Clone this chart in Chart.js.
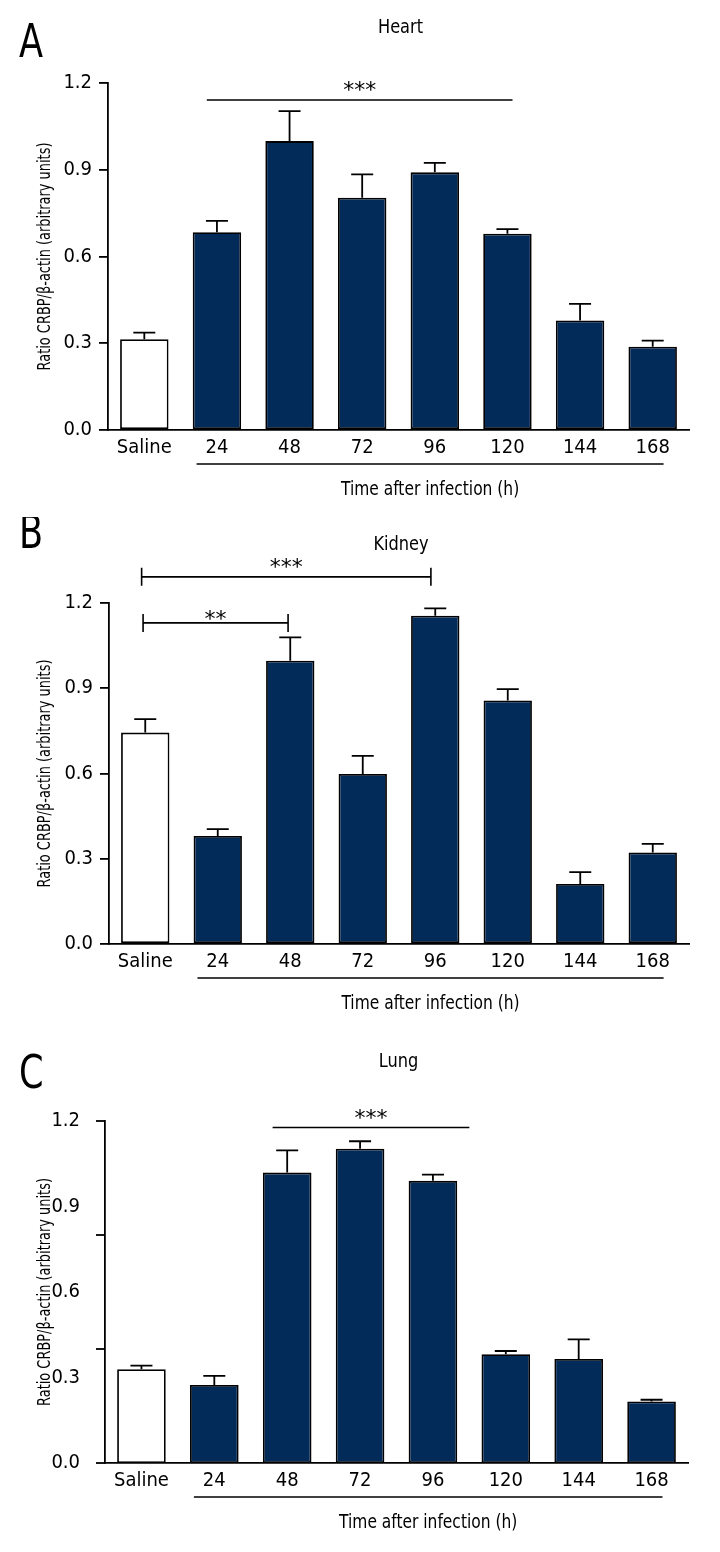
<!DOCTYPE html>
<html>
<head>
<meta charset="utf-8">
<script src="https://cdn.jsdelivr.net/npm/chart.js@4.4.1/dist/chart.umd.min.js"></script>
<style>
  html, body { margin:0; padding:0; background:#fff; }
  body { width:720px; height:1552px; position:relative; overflow:hidden; }
  .panel { position:absolute; left:0; width:720px; }
</style>
</head>
<body>
<div class="panel" style="top:0;height:517px"><canvas id="heartChart"></canvas></div>
<div class="panel" style="top:517px;height:518px"><canvas id="kidneyChart"></canvas></div>
<div class="panel" style="top:1035px;height:517px"><canvas id="lungChart"></canvas></div>
<script>
/* ── Data ── */
const categories = ['Saline', '24', '48', '72', '96', '120', '144', '168'];
const yTicks     = [0, 0.3, 0.6, 0.9, 1.2];

const heartMean  = [0.314, 0.684, 0.999, 0.803, 0.891, 0.679, 0.379, 0.288];
const heartSem   = [0.023, 0.039, 0.104, 0.081, 0.033, 0.016, 0.057, 0.021];

const kidneyMean = [0.744, 0.380, 0.997, 0.598, 1.155, 0.857, 0.211, 0.322];
const kidneySem  = [0.047, 0.024, 0.082, 0.064, 0.026, 0.040, 0.042, 0.030];

const lungMean   = [0.329, 0.274, 1.019, 1.103, 0.990, 0.382, 0.365, 0.216];
const lungSem    = [0.013, 0.032, 0.078, 0.026, 0.022, 0.011, 0.069, 0.006];
const lungTickMarks = [0, 0.4, 0.8, 1.2];   // original figure has its marks off the labels

// significance bars: from/to in category index, y in axis units
const heartSig  = [{ from: 0.86, to: 5.07, y: 1.141, text: '***', caps: false }];
const kidneySig = [
  { from: -0.05, to: 3.94, y: 1.292, text: '***', caps: true },
  { from: -0.03, to: 1.97, y: 1.130, text: '**',  caps: true },
];
const lungSig   = [{ from: 1.80, to: 4.50, y: 1.177, text: '***', caps: false }];

const yTitle = 'Ratio CRBP/β-actin (arbitrary units)';
const xTitle = 'Time after infection (h)';

/* ── Style ── */
const FONT = "'Liberation Sans Narrow', 'DejaVu Sans Condensed', 'Arial Narrow', sans-serif";
const NAVY = '#032b5a';
const INK  = '#000';

/* ── Plugins ── */
const errorBars = sem => ({
  id: 'errorBars',
  afterDatasetsDraw(chart) {
    const { ctx, scales: { y } } = chart;
    const means = chart.data.datasets[0].data;
    ctx.save();
    ctx.strokeStyle = INK; ctx.lineWidth = 1.8;
    chart.getDatasetMeta(0).data.forEach((bar, i) => {
      const top = y.getPixelForValue(means[i] + sem[i]);
      ctx.beginPath();
      ctx.moveTo(bar.x, bar.y); ctx.lineTo(bar.x, top);
      ctx.moveTo(bar.x - 11, top); ctx.lineTo(bar.x + 11, top);
      ctx.stroke();
    });
    ctx.restore();
  },
});

// text squeezed sideways a bit, the original face is a condensed one
function narrowText(ctx, text, x, y, sx) {
  ctx.save();
  ctx.translate(x, y);
  ctx.scale(sx, 1);
  ctx.fillText(text, 0, 0);
  ctx.restore();
}

const decor = p => ({
  id: 'decor',
  afterDraw(chart) {
    const { ctx, chartArea: a, scales: { x, y } } = chart;
    ctx.save();
    ctx.fillStyle = INK; ctx.strokeStyle = INK;

    // panel letter + title
    ctx.font = `46px ${FONT}`; ctx.textAlign = 'left'; ctx.textBaseline = 'alphabetic';
    narrowText(ctx, p.letter, p.letterPos[0], p.letterPos[1], 0.85);
    ctx.font = `20px ${FONT}`; ctx.textAlign = 'center'; ctx.textBaseline = 'middle';
    narrowText(ctx, p.title, (a.left + a.right) / 2 + 2, p.titleY, 0.9);

    // y title
    ctx.save();
    ctx.translate(45, (a.top + a.bottom) / 2);
    ctx.rotate(-Math.PI / 2);
    ctx.font = `18px ${FONT}`;
    narrowText(ctx, yTitle, 0, 0, 0.8);
    ctx.restore();

    // bracket under time points + x title
    const u0 = x.getPixelForValue(0.72), u1 = x.getPixelForValue(7.15);
    ctx.lineWidth = 1.6;
    ctx.beginPath(); ctx.moveTo(u0, a.bottom + 34); ctx.lineTo(u1, a.bottom + 34); ctx.stroke();
    ctx.font = `20px ${FONT}`;
    narrowText(ctx, xTitle, (u0 + u1) / 2, a.bottom + 60, 0.86);

    // own tick marks (lung panel)
    if (p.tickMarks) {
      ctx.lineWidth = 1.8;
      p.tickMarks.forEach(v => {
        const ty = y.getPixelForValue(v);
        ctx.beginPath(); ctx.moveTo(a.left - 9, ty); ctx.lineTo(a.left, ty); ctx.stroke();
      });
    }

    // significance
    ctx.font = `22px 'DejaVu Sans', sans-serif`;
    p.sig.forEach(s => {
      const x0 = x.getPixelForValue(s.from), x1 = x.getPixelForValue(s.to);
      const ly = y.getPixelForValue(s.y);
      ctx.lineWidth = 1.6;
      ctx.beginPath();
      ctx.moveTo(x0, ly); ctx.lineTo(x1, ly);
      if (s.caps) {
        ctx.moveTo(x0, ly - 9); ctx.lineTo(x0, ly + 9);
        ctx.moveTo(x1, ly - 9); ctx.lineTo(x1, ly + 9);
      }
      ctx.stroke();
      const m = ctx.measureText(s.text);
      ctx.textBaseline = 'alphabetic';
      ctx.fillText(s.text, (x0 + x1) / 2, ly - 3 - m.actualBoundingBoxDescent);
    });
    ctx.restore();
  },
});

/* ── Chart builder ── */
function makePanel(id, mean, sem, p) {
  const [left, top, right, bottom] = p.area;
  const canvas = document.getElementById(id);
  const h = canvas.parentElement.clientHeight;
  return new Chart(canvas, {
    type: 'bar',
    data: {
      labels: categories,
      datasets: [{
        data: mean,
        backgroundColor: categories.map((c, i) => i === 0 ? '#fff' : NAVY),
        borderColor: INK,
        borderWidth: 1.8,
        borderSkipped: false,
        barPercentage: 0.667,
        categoryPercentage: 1,
      }],
    },
    options: {
      responsive: true, maintainAspectRatio: false, animation: false,
      devicePixelRatio: 1,
      layout: { padding: { top, right: 720 - right, left: 0, bottom: 0 } },
      plugins: { legend: { display: false }, tooltip: { enabled: false } },
      scales: {
        x: {
          offset: true,
          grid: { display: false, drawTicks: false },
          border: { display: true, color: INK, width: 1.8 },
          ticks: { color: INK, font: { family: FONT, size: 20 }, padding: 6, maxRotation: 0, autoSkip: false },
          afterFit: s => { s.height = h - bottom; },
        },
        y: {
          min: 0, max: 1.2,
          afterBuildTicks: s => { s.ticks = yTicks.map(v => ({ value: v })); },
          grid: { display: !p.tickMarks, drawOnChartArea: false, drawTicks: true, tickLength: 9, color: INK, lineWidth: 1.8 },
          border: { display: true, color: INK, width: 1.8 },
          ticks: {
            color: INK, font: { family: FONT, size: 20 },
            padding: p.tickMarks ? 16 : 7,
            callback: v => v.toFixed(1),
          },
          afterFit: s => { s.width = left; },
        },
      },
    },
    plugins: [errorBars(sem), decor(p)],
  });
}

makePanel('heartChart', heartMean, heartSem, {
  area: [108, 83, 689, 430], letter: 'A', letterPos: [19, 57], title: 'Heart', titleY: 28, sig: heartSig,
});
makePanel('kidneyChart', kidneyMean, kidneySem, {
  area: [109, 86, 689, 427], letter: 'B', letterPos: [19, 31], title: 'Kidney', titleY: 28, sig: kidneySig,
});
makePanel('lungChart', lungMean, lungSem, {
  area: [105, 86, 688, 428], letter: 'C', letterPos: [19, 53], title: 'Lung', titleY: 27, sig: lungSig,
  tickMarks: lungTickMarks,
});
</script>
</body>
</html>
